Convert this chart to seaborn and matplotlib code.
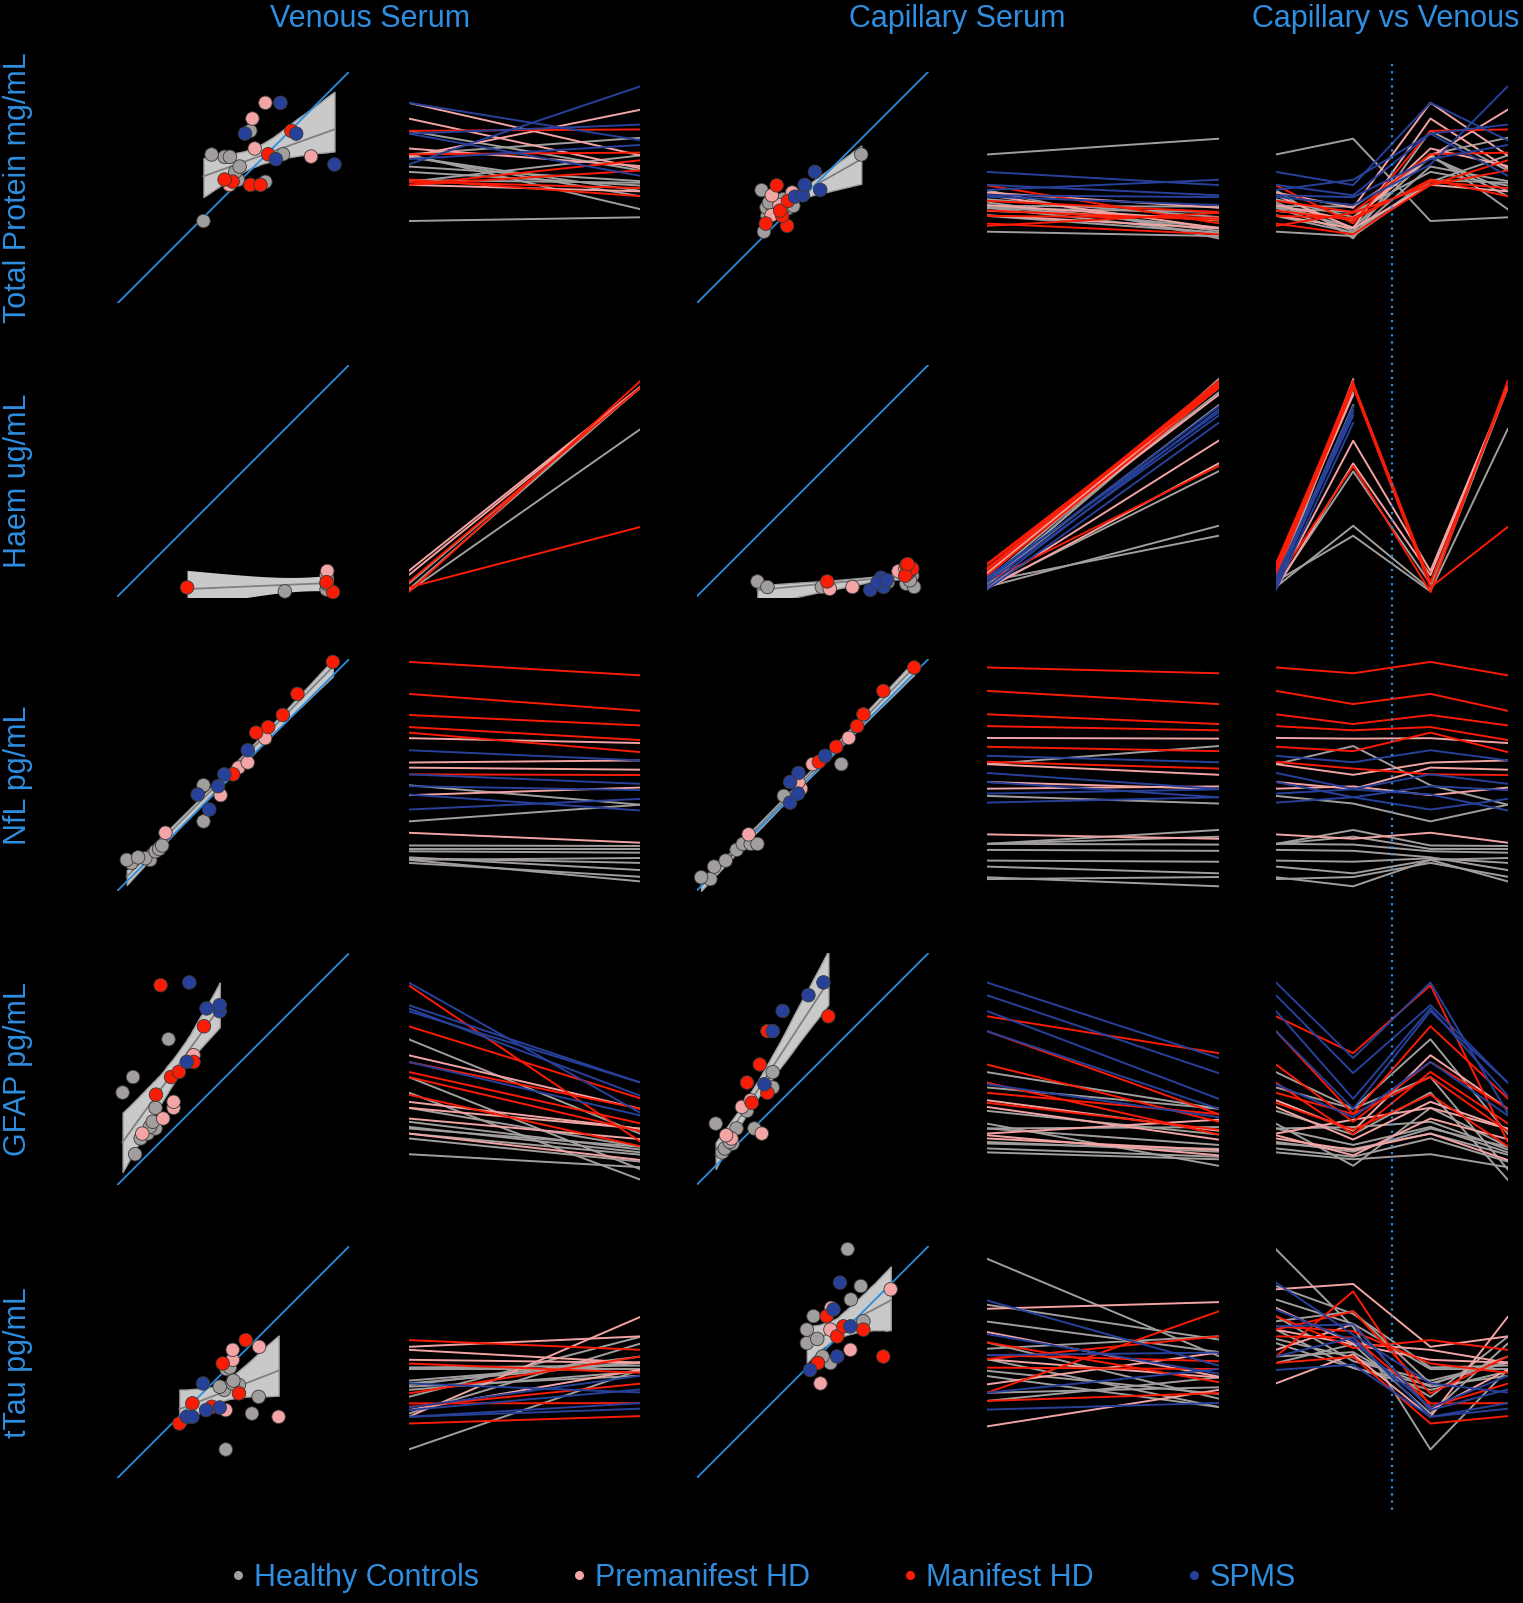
import numpy as np
import pandas as pd
import matplotlib
matplotlib.use('Agg')
import matplotlib.pyplot as plt
from matplotlib.lines import Line2D
import seaborn as sns

plt.rcParams['font.family'] = ['Liberation Sans', 'DejaVu Sans']

# subjects: 10 controls, 5 premanifest, 6 manifest, 5 SPMS
GROUPS = (['Healthy Controls'] * 10 + ['Premanifest HD'] * 5 +
          ['Manifest HD'] * 6 + ['SPMS'] * 5)
GROUP_ORDER = ['Healthy Controls', 'Premanifest HD', 'Manifest HD', 'SPMS']
PALETTE = {'Healthy Controls': '#a29e9e', 'Premanifest HD': '#f3a4a4',
           'Manifest HD': '#fb1c05', 'SPMS': '#27419b'}
TXT = '#2f8ee0'
ID_BLUE = '#2b8de0'

COL_TITLES = ['Venous Serum', 'Capillary Serum', 'Capillary vs Venous']
ROW_LABELS = ['Total Protein mg/mL', 'Haem ug/mL', 'NfL pg/mL',
              'GFAP pg/mL', 'tTau pg/mL']

# values, scaled to each row's axis range (0..1)
TP_VEN_X = [.638, .520, .508, .527, .462, .485, .406, .714, .573, .371,
            .483, .835, .592, .582, .638,
            .573, .617, .497, .462, .650, .750,
            .936, .683, .550, .771, .703]
TP_VEN_Y = [.524, .532, .567, .590, .632, .632, .642, .643, .744, .355,
            .511, .633, .668, .797, .865,
            .511, .511, .525, .534, .643, .744,
            .599, .622, .732, .732, .865]
TP_CAP_X = [.290, .305, .394, .301, .327, .417, .312, .372, .280, .710,
            .323, .365, .357, .324, .412,
            .390, .298, .369, .360, .394, .345,
            .424, .458, .533, .466, .510]
TP_CAP_Y = [.309, .377, .410, .413, .420, .420, .435, .449, .488, .642,
            .380, .399, .424, .466, .478,
            .334, .344, .377, .400, .442, .509,
            .460, .466, .489, .511, .567]

HAEM_VEN_X = [.722, .902, .902, None, None, None, None, None, None, None,
              .902, .905, None, None, None,
              .930, .300, .902, None, None, None,
              None, None, None, None, None]
HAEM_VEN_Y = [.022, .030, .055, None, None, None, None, None, None, None,
              .092, .110, None, None, None,
              .019, .039, .062, None, None, None,
              None, None, None, None, None]
HAEM_CAP_X = [.262, .305, .540, .825, .880, .916, .904, .938, .930, .920,
              .574, .672, .870, .900, .910,
              .563, .904, .920, .930, .900, .910,
              .795, .749, .806, .780, .820]
HAEM_CAP_Y = [.065, .041, .041, .062, .106, .106, .055, .041, .090, .070,
              .033, .041, .109, .120, .100,
              .065, .135, .110, .120, .090, .140,
              .081, .029, .041, .060, .070]

NFL_VEN_X = [.060, .040, .141, .120, .089, .164, .180, .193, .371, .371,
             .207, .445, .522, .562, .637,
             .499, .598, .650, .713, .776, .929,
             .396, .346, .434, .461, .562]
NFL_VEN_Y = [.120, .133, .133, .140, .144, .170, .180, .195, .299, .455,
             .250, .412, .531, .553, .658,
             .502, .682, .706, .758, .849, .987,
             .350, .415, .451, .502, .606]
NFL_CAP_X = [.059, .019, .075, .125, .172, .199, .233, .262, .376, .624,
             .224, .450, .439, .500, .656,
             .527, .602, .692, .719, .805, .938,
             .403, .437, .403, .439, .554]
NFL_CAP_Y = [.050, .058, .104, .130, .176, .202, .202, .202, .409, .546,
             .243, .440, .469, .546, .659,
             .556, .621, .710, .761, .862, .963,
             .380, .419, .469, .508, .582]

GFAP_VEN_X = [.076, .100, .130, .164, .140, .152, .164, .022, .067, .220,
              .107, .197, .242, .242, .328,
              .166, .231, .265, .328, .373, .186,
              .299, .441, .384, .441, .310]
GFAP_VEN_Y = [.132, .200, .221, .243, .250, .272, .332, .398, .465, .628,
              .221, .286, .332, .358, .559,
              .389, .465, .487, .530, .684, .861,
              .530, .749, .761, .775, .873]
GFAP_CAP_X = [.110, .121, .155, .143, .172, .249, .082, .217, .328, .328,
              .150, .127, .281, .195, .233,
              .238, .305, .217, .272, .305, .568,
              .292, .328, .371, .482, .547]
GFAP_CAP_Y = [.140, .157, .178, .185, .243, .243, .264, .319, .420, .486,
              .200, .214, .221, .336, .365,
              .354, .397, .441, .519, .663, .727,
              .434, .663, .750, .818, .873]

TAU_VEN_X = [.580, .609, .460, .441, .524, .497, .500, .470, .485, .467,
             .695, .467, .497, .497, .611,
             .267, .407, .323, .524, .454, .553,
             .299, .323, .382, .441, .369]
TAU_VEN_Y = [.278, .350, .380, .394, .401, .408, .420, .470, .477, .123,
             .264, .293, .510, .553, .566,
             .235, .307, .322, .365, .494, .595,
             .264, .264, .293, .304, .408]
TAU_CAP_X = [.577, .543, .475, .520, .475, .719, .504, .665, .708, .651,
             .534, .663, .577, .580, .837,
             .523, .805, .606, .719, .633, .561,
             .489, .606, .663, .590, .618]
TAU_CAP_Y = [.496, .524, .582, .600, .640, .676, .698, .770, .828, .987,
             .408, .553, .640, .734, .814,
             .496, .524, .611, .640, .654, .698,
             .466, .524, .654, .727, .843]

ROWS = [
    (TP_VEN_X, TP_VEN_Y, TP_CAP_X, TP_CAP_Y),
    (HAEM_VEN_X, HAEM_VEN_Y, HAEM_CAP_X, HAEM_CAP_Y),
    (NFL_VEN_X, NFL_VEN_Y, NFL_CAP_X, NFL_CAP_Y),
    (GFAP_VEN_X, GFAP_VEN_Y, GFAP_CAP_X, GFAP_CAP_Y),
    (TAU_VEN_X, TAU_VEN_Y, TAU_CAP_X, TAU_CAP_Y),
]
# the tTau capillary line panel uses its own y range
CAP_LINE_YLIM = {4: (0.23, 1.03)}
# panels with few points get a standard-error band instead of a bootstrap one
ANALYTIC_BAND = {(1, 0)}

# layout in pixels
FIG_W, FIG_H = 1523, 1603
COL_X = [117.5, 408.6, 696.7, 986.8, 1275.9]
ROW_Y = [71.5, 364.7, 658.9, 953.0, 1246.2]
SIZE = 231.8
BAND = '#c9c9c9'


def add_ax(fig, row, col):
    return fig.add_axes([COL_X[col] / FIG_W, 1 - (ROW_Y[row] + SIZE) / FIG_H,
                         SIZE / FIG_W, SIZE / FIG_H])


def se_band(ax, x, y):
    ok = ~(np.isnan(x) | np.isnan(y))
    x, y = x[ok], y[ok]
    n = len(x)
    slope, icpt = np.polyfit(x, y, 1)
    resid = y - (slope * x + icpt)
    s = np.sqrt((resid ** 2).sum() / (n - 2))
    try:
        from scipy import stats
        t = stats.t.ppf(0.975, n - 2)
    except ImportError:
        t = 2.45
    grid = np.linspace(x.min(), x.max(), 100)
    fit = slope * grid + icpt
    half = t * s * np.sqrt(1 / n + (grid - x.mean()) ** 2 / ((x - x.mean()) ** 2).sum())
    ax.fill_between(grid, fit - half, fit + half, color=BAND, lw=0, zorder=1)


def scatter_panel(ax, x, y, analytic=False):
    d = pd.DataFrame({'x': np.array(x, dtype=float),
                      'y': np.array(y, dtype=float), 'group': GROUPS})
    if analytic:
        sns.regplot(data=d, x='x', y='y', scatter=False, ci=None, ax=ax,
                    color='#808080', line_kws={'lw': 1.3, 'zorder': 2})
        se_band(ax, d['x'].to_numpy(), d['y'].to_numpy())
    else:
        sns.regplot(data=d, x='x', y='y', scatter=False, ax=ax, color='#808080',
                    seed=1, line_kws={'lw': 1.3, 'zorder': 2})
        band = ax.collections[-1]
        band.set_facecolor(BAND)
        band.set_edgecolor('#a0a0a0')
        band.set_alpha(1)
        band.set_zorder(1)
    ax.axline((0, 0), slope=1, color=ID_BLUE, lw=1.3, zorder=3)
    sns.scatterplot(data=d, x='x', y='y', hue='group', hue_order=GROUP_ORDER,
                    palette=PALETTE, s=95, edgecolor='#3a3a3a', linewidth=0.6,
                    legend=False, zorder=4, clip_on=False, ax=ax)
    ax.set_xlim(0, 1)
    ax.set_ylim(0, 1)
    ax.set_axis_off()


def line_panel(ax, columns, ylim=(0, 1)):
    recs = []
    for i, g in enumerate(GROUPS):
        for pos, col in enumerate(columns):
            recs.append({'subject': i, 'group': g, 'pos': pos,
                         'value': col[i]})
    d = pd.DataFrame(recs)
    d['value'] = d['value'].astype(float)
    sns.lineplot(data=d, x='pos', y='value', hue='group', units='subject',
                 estimator=None, hue_order=GROUP_ORDER, palette=PALETTE,
                 lw=1.4, legend=False, sort=False, ax=ax)
    ax.set_xlim(0, len(columns) - 1)
    ax.set_ylim(*ylim)
    ax.set_axis_off()


fig = plt.figure(figsize=(FIG_W / 100, FIG_H / 100), dpi=100, facecolor='black')

last_ax = None
for r, (vx, vy, cx, cy) in enumerate(ROWS):
    scatter_panel(add_ax(fig, r, 0), vx, vy, (r, 0) in ANALYTIC_BAND)
    line_panel(add_ax(fig, r, 1), [vy, vx])
    scatter_panel(add_ax(fig, r, 2), cx, cy, (r, 2) in ANALYTIC_BAND)
    line_panel(add_ax(fig, r, 3), [cy, cx], CAP_LINE_YLIM.get(r, (0, 1)))
    last_ax = add_ax(fig, r, 4)
    line_panel(last_ax, [cy, cx, vy, vx])

    fig.text(18.4 / FIG_W, 1 - (ROW_Y[r] + SIZE / 2) / FIG_H, ROW_LABELS[r],
             rotation=90, ha='center', va='center', fontsize=22, color=TXT)

# dotted divider between capillary and venous halves of the last column
xf = fig.transFigure.inverted().transform(last_ax.transData.transform((1.5, 0)))[0]
fig.add_artist(Line2D([xf, xf], [1 - 64 / FIG_H, 1 - 1510 / FIG_H],
                      transform=fig.transFigure, color=ID_BLUE, lw=1.6,
                      ls=(0, (1, 2.2))))

for label, cx in zip(COL_TITLES, [370, 957, 1386]):
    fig.text(cx / FIG_W, 1 - 19 / FIG_H, label, ha='center', va='center',
             fontsize=22, color=TXT)

handles = [Line2D([], [], ls='none', marker='o', markersize=5.5,
                  markerfacecolor=PALETTE[g], markeredgecolor=PALETTE[g],
                  label=g) for g in GROUP_ORDER]
fig.legend(handles=handles, loc='center', bbox_to_anchor=(764 / FIG_W, 1 - 1578 / FIG_H),
           ncol=4, frameon=False, fontsize=22, labelcolor=TXT,
           handlelength=0.4, handletextpad=0.3, columnspacing=3.1)

fig.savefig('out.png', dpi=100, facecolor='black')
